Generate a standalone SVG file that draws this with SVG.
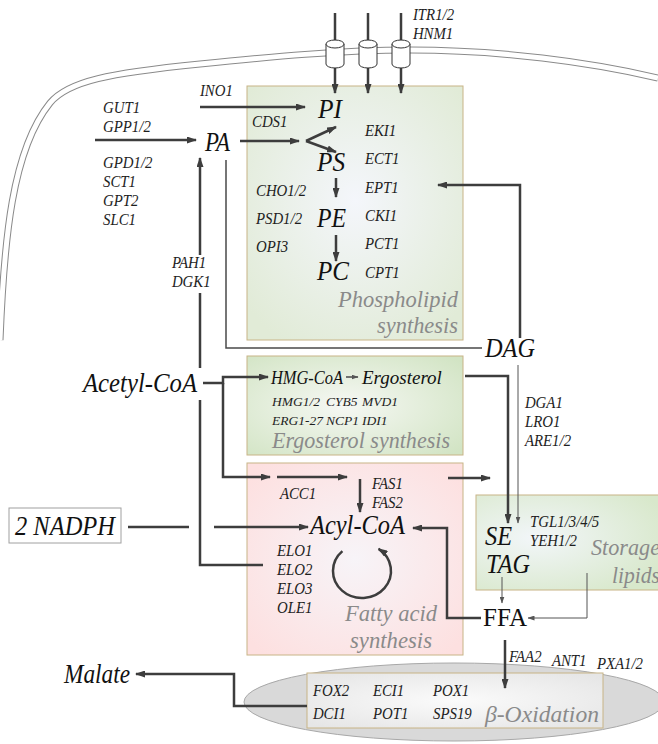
<svg xmlns="http://www.w3.org/2000/svg" width="658" height="744" viewBox="0 0 658 744">
<defs>
<style>
.g{font-family:"Liberation Serif","Times New Roman",serif;font-style:italic;font-size:16.5px;fill:#1e1e1e;transform:scaleX(0.9);transform-box:fill-box;transform-origin:0 50%}
.gt{font-family:"Liberation Serif","Times New Roman",serif;font-style:italic;font-size:13.5px;fill:#1e1e1e}
.b{font-family:"Liberation Serif","Times New Roman",serif;font-style:italic;font-size:27px;fill:#111}
.m{font-family:"Liberation Serif","Times New Roman",serif;font-style:italic;font-size:19px;fill:#111}
.n{font-family:"Liberation Serif","Times New Roman",serif;font-size:25px;fill:#111}
.lab{font-family:"Liberation Serif","Times New Roman",serif;font-style:italic;font-size:24px;fill:#8a8a8a}
.c{fill:none;stroke:#3d3d3d;stroke-width:2.5}
.t{fill:none;stroke:#555;stroke-width:1}
.md{fill:none;stroke:#4a4a4a;stroke-width:1.5}
.box{stroke:#c8b486;stroke-width:1}
.cyl{fill:#fff;stroke:#333;stroke-width:1}
</style>
<radialGradient id="gpl" cx="50%" cy="45%" r="65%"><stop offset="0" stop-color="#f4f6fb"/><stop offset="1" stop-color="#e1ebd7"/></radialGradient>
<radialGradient id="gerg" cx="45%" cy="50%" r="70%"><stop offset="0" stop-color="#f6f8f4"/><stop offset="1" stop-color="#d2e4c4"/></radialGradient>
<radialGradient id="gfa" cx="50%" cy="50%" r="65%"><stop offset="0" stop-color="#f7f4f8"/><stop offset="1" stop-color="#fde0e0"/></radialGradient>
<radialGradient id="gst" cx="30%" cy="45%" r="70%"><stop offset="0" stop-color="#f2f6f9"/><stop offset="1" stop-color="#d8e8cb"/></radialGradient>
<radialGradient id="gbo" cx="50%" cy="50%" r="65%"><stop offset="0" stop-color="#fbfbfb"/><stop offset="1" stop-color="#e6e6e6"/></radialGradient>
<marker id="ah" markerWidth="10" markerHeight="7" refX="9" refY="3.5" orient="auto" markerUnits="userSpaceOnUse"><path d="M0,0 L10,3.5 L0,7 z" fill="#3d3d3d"/></marker>
<marker id="as" markerWidth="7" markerHeight="5" refX="6.5" refY="2.5" orient="auto" markerUnits="userSpaceOnUse"><path d="M0,0 L7,2.5 L0,5 z" fill="#555"/></marker>
</defs>
<rect width="658" height="744" fill="#fff"/>

<g id="membrane">
<path d="M0,340 C4,240 12,150 50,103 C68,81 110,73 200,64 C270,57 340,50 410,50 C500,50 590,62 658,78" fill="none" stroke="#8a8a8a" stroke-width="7"/>
<path d="M0,340 C4,240 12,150 50,103 C68,81 110,73 200,64 C270,57 340,50 410,50 C500,50 590,62 658,78" fill="none" stroke="#fff" stroke-width="5"/>
</g>

<g id="phospholipid">
<rect class="box" x="247" y="86" width="216" height="254" fill="url(#gpl)"/>
<text class="b" x="318" y="118" textLength="24" lengthAdjust="spacingAndGlyphs">PI</text>
<text class="b" x="317" y="171" textLength="28" lengthAdjust="spacingAndGlyphs">PS</text>
<text class="b" x="317" y="227" textLength="29" lengthAdjust="spacingAndGlyphs">PE</text>
<text class="b" x="317" y="280" textLength="32" lengthAdjust="spacingAndGlyphs">PC</text>
<text class="g" x="252" y="127">CDS1</text>
<text class="g" x="256" y="196">CHO1/2</text>
<text class="g" x="256" y="224">PSD1/2</text>
<text class="g" x="256" y="252">OPI3</text>
<text class="g" x="365" y="136">EKI1</text>
<text class="g" x="365" y="164">ECT1</text>
<text class="g" x="365" y="193">EPT1</text>
<text class="g" x="365" y="221">CKI1</text>
<text class="g" x="365" y="249">PCT1</text>
<text class="g" x="365" y="278">CPT1</text>
<text class="lab" x="458" y="307" text-anchor="end" textLength="120" lengthAdjust="spacingAndGlyphs">Phospholipid</text>
<text class="lab" x="458" y="333" text-anchor="end" textLength="81" lengthAdjust="spacingAndGlyphs">synthesis</text>
</g>

<g id="ergosterol">
<rect class="box" x="247" y="356" width="216" height="99" fill="url(#gerg)"/>
<text class="m" x="271" y="384" textLength="72" lengthAdjust="spacingAndGlyphs">HMG-CoA</text>
<text class="m" x="362" y="384">Ergosterol</text>
<text class="gt" x="272" y="406">HMG1/2</text>
<text class="gt" x="326" y="406">CYB5</text>
<text class="gt" x="362" y="406">MVD1</text>
<text class="gt" x="272" y="425">ERG1-27</text>
<text class="gt" x="326" y="425">NCP1</text>
<text class="gt" x="362" y="425">IDI1</text>
<text class="lab" x="272" y="448" textLength="178" lengthAdjust="spacingAndGlyphs">Ergosterol synthesis</text>
</g>

<g id="fattyacid">
<rect class="box" x="247" y="463" width="216" height="192" fill="url(#gfa)"/>
<text class="b" x="310" y="534" font-size="26" textLength="95" lengthAdjust="spacingAndGlyphs">Acyl-CoA</text>
<text class="g" x="280" y="499">ACC1</text>
<text class="g" x="372" y="489">FAS1</text>
<text class="g" x="372" y="508">FAS2</text>
<text class="g" x="277" y="556">ELO1</text>
<text class="g" x="277" y="575">ELO2</text>
<text class="g" x="277" y="594">ELO3</text>
<text class="g" x="277" y="613">OLE1</text>
<text class="lab" x="391" y="621" text-anchor="middle" textLength="92" lengthAdjust="spacingAndGlyphs">Fatty acid</text>
<text class="lab" x="391" y="648" text-anchor="middle" textLength="82" lengthAdjust="spacingAndGlyphs">synthesis</text>
</g>

<g id="storage">
<rect class="box" x="476" y="495" width="200" height="95" fill="url(#gst)"/>
<text class="b" x="485" y="545" textLength="27" lengthAdjust="spacingAndGlyphs">SE</text>
<text class="b" x="486" y="573" textLength="44" lengthAdjust="spacingAndGlyphs">TAG</text>
<text class="g" x="530" y="527">TGL1/3/4/5</text>
<text class="g" x="530" y="546">YEH1/2</text>
<text class="lab" x="591" y="555" textLength="69" lengthAdjust="spacingAndGlyphs">Storage</text>
<text class="lab" x="612" y="583" textLength="48" lengthAdjust="spacingAndGlyphs">lipids</text>
</g>

<g id="betaox">
<ellipse cx="454" cy="702" rx="210" ry="39" fill="#d9d9d9" stroke="#a8a8a8" stroke-width="1"/>
<rect class="box" x="307" y="673" width="296" height="55" fill="url(#gbo)"/>
<text class="g" x="313" y="696">FOX2</text>
<text class="g" x="313" y="719">DCI1</text>
<text class="g" x="373" y="696">ECI1</text>
<text class="g" x="373" y="719">POT1</text>
<text class="g" x="433" y="696">POX1</text>
<text class="g" x="433" y="719">SPS19</text>
<text class="lab" x="485" y="722" font-size="25" textLength="114" lengthAdjust="spacingAndGlyphs">β-Oxidation</text>
</g>

<g id="PA">
<text class="b" x="205" y="151" textLength="25" lengthAdjust="spacingAndGlyphs">PA</text>
<text class="g" x="200" y="96">INO1</text>
<text class="g" x="103" y="113">GUT1</text>
<text class="g" x="103" y="132">GPP1/2</text>
<text class="g" x="103" y="168">GPD1/2</text>
<text class="g" x="103" y="187">SCT1</text>
<text class="g" x="103" y="206">GPT2</text>
<text class="g" x="103" y="225">SLC1</text>
<text class="g" x="172" y="268">PAH1</text>
<text class="g" x="172" y="287">DGK1</text>
</g>

<g id="DAG">
<text class="b" x="485" y="357" textLength="50" lengthAdjust="spacingAndGlyphs">DAG</text>
<text class="g" x="525" y="408">DGA1</text>
<text class="g" x="525" y="427">LRO1</text>
<text class="g" x="525" y="446">ARE1/2</text>
</g>

<g id="acetylcoa">
<text class="b" x="83" y="392" textLength="114" lengthAdjust="spacingAndGlyphs">Acetyl-CoA</text>
</g>

<g id="nadph">
<rect x="9" y="508" width="112" height="35" fill="#fff" stroke="#a0a0a0" stroke-width="1"/>
<text class="b" x="15" y="535" font-size="24" textLength="100" lengthAdjust="spacingAndGlyphs">2 NADPH</text>
</g>

<g id="FFA">
<text class="n" x="483" y="626" textLength="44" lengthAdjust="spacingAndGlyphs">FFA</text>
</g>

<g id="malate">
<text class="b" x="64" y="683" textLength="66" lengthAdjust="spacingAndGlyphs">Malate</text>
</g>

<g id="connectors">
<path class="c" d="M200,107 H305" marker-end="url(#ah)"/>
<path class="c" d="M95,140 H196" marker-end="url(#ah)"/>
<path class="c" d="M240,141 H299" marker-end="url(#ah)"/>
<path class="c" d="M306,141 L336,127" marker-end="url(#ah)"/>
<path class="c" d="M306,141 L336,152" marker-end="url(#ah)"/>
<path class="c" d="M336,178 V197" marker-end="url(#ah)"/>
<path class="c" d="M336,235 V261" marker-end="url(#ah)"/>
<path class="c" d="M200,255 V158" marker-end="url(#ah)"/>
<path class="c" d="M200,293 V368"/>
<path class="md" d="M226,160 V348 H482"/>
<path class="c" d="M520,338 V185 H438" marker-end="url(#ah)"/>
<path class="t" d="M518,365 V523" marker-end="url(#as)"/>
<path class="c" d="M203,383 H223 V377 H268" marker-end="url(#ah)"/>
<path class="c" d="M223,383 V477 H270" marker-end="url(#ah)"/>
<path class="c" d="M277,477 H347" marker-end="url(#ah)"/>
<path class="c" d="M360,479 V512" marker-end="url(#ah)"/>
<path class="c" d="M448,478 H490" marker-end="url(#ah)"/>
<path class="md" d="M346,377 H358" marker-end="url(#as)"/>
<path class="c" d="M465,376 H508 V523" marker-end="url(#ah)"/>
<path class="c" d="M128,527 H189"/>
<path class="c" d="M214,527 H308" marker-end="url(#ah)"/>
<path class="c" d="M263,565 H200 V400"/>
<path class="c" d="M342.4,551.1 A29,27 0 1 0 378.6,548.9" marker-end="url(#ah)"/>
<path class="c" d="M481,618 H447 V528 H413" marker-end="url(#ah)"/>
<path class="t" d="M502,577 V603" marker-end="url(#as)"/>
<path class="t" d="M587,573 V618 H528" marker-end="url(#as)"/>
<path class="c" d="M505,640 V688" marker-end="url(#ah)"/>
<path class="c" d="M307,706 H234 V674 H136" marker-end="url(#ah)"/>
<path class="c" d="M335,13 V93" marker-end="url(#ah)"/>
<path class="c" d="M368,13 V93" marker-end="url(#ah)"/>
<path class="c" d="M401,13 V93" marker-end="url(#ah)"/>
</g>

<g id="transporters">
<path class="cyl" d="M326,44 V64 A9,4 0 0 0 344,64 V44"/>
<ellipse class="cyl" cx="335" cy="44" rx="9" ry="4"/>
<path class="cyl" d="M359,44 V64 A9,4 0 0 0 377,64 V44"/>
<ellipse class="cyl" cx="368" cy="44" rx="9" ry="4"/>
<path class="cyl" d="M392,44 V64 A9,4 0 0 0 410,64 V44"/>
<ellipse class="cyl" cx="401" cy="44" rx="9" ry="4"/>
<text class="g" x="413" y="20">ITR1/2</text>
<text class="g" x="413" y="39">HNM1</text>
</g>

<g id="transport-labels">
<text class="g" x="509" y="662" transform="rotate(6 509 662)">FAA2</text>
<text class="g" x="552" y="666" transform="rotate(12 552 666)">ANT1</text>
<text class="g" x="597" y="669" transform="rotate(22 597 669)">PXA1/2</text>
</g>
</svg>
